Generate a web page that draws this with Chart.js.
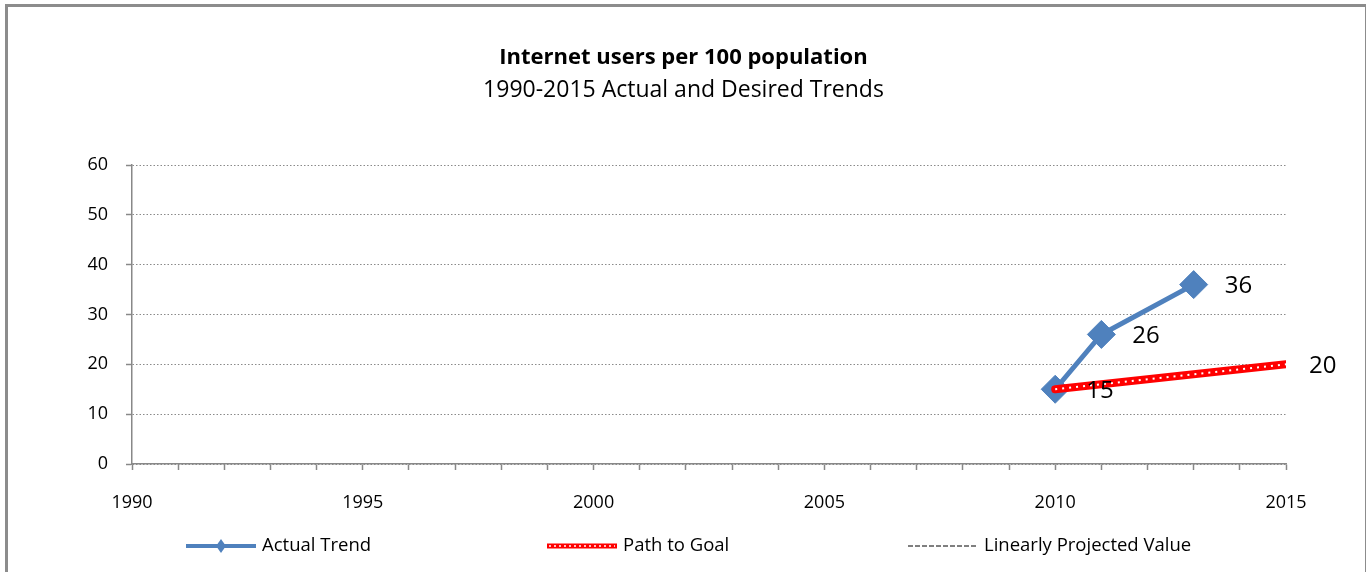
<!DOCTYPE html>
<html>
<head>
<meta charset="utf-8">
<script src="https://cdn.jsdelivr.net/npm/chart.js@4/dist/chart.umd.min.js"></script>
<style>
  html, body { margin: 0; padding: 0; background: #fff; }
  #wrap { position: absolute; left: 0; top: 0; width: 1367px; height: 572px; }
  #frame {
    position: absolute; left: 5px; top: 4px; width: 1361px; height: 568px;
    border-left: 3px solid #8c8c8c; border-top: 3px solid #8c8c8c; border-right: 1px solid #8c8c8c;
    box-sizing: border-box; pointer-events: none;
  }
</style>
</head>
<body>
<div id="wrap">
  <canvas id="chart" width="1367" height="572"></canvas>
  <div id="frame"></div>
</div>
<script>
// data
var actualYears = [2010, 2011, 2013];
var actualValues = [15, 26, 36];
var goalYears = [2010, 2015];
var goalValues = [15, 20];
var projectedYears = [];
var projectedValues = [];
var yearMin = 1990, yearMax = 2015;
var valueMin = 0, valueMax = 60;

function pairs(xs, ys) {
  return xs.map(function (x, i) { return { x: x, y: ys[i] }; });
}

var FONT = "'Open Sans', sans-serif";
var BLUE = '#4F81BD';

// labels next to points (Excel style data labels)
var pointLabels = {
  id: 'pointLabels',
  afterDatasetsDraw: function (chart) {
    var ctx = chart.ctx;
    ctx.save();
    ctx.font = '24px ' + FONT;
    ctx.fillStyle = '#000';
    ctx.textAlign = 'left';
    ctx.textBaseline = 'middle';
    chart.data.datasets.forEach(function (ds, i) {
      if (!ds.showLabels) return;
      var meta = chart.getDatasetMeta(i);
      meta.data.forEach(function (pt, j) {
        if (ds.showLabels === 'last' && j !== meta.data.length - 1) return;
        ctx.fillText(ds.data[j].y, pt.x + ds.labelOffset, pt.y + 2);
      });
    });
    ctx.restore();
  }
};

// bottom legend spread across the width
var spreadLegend = {
  id: 'spreadLegend',
  afterDraw: function (chart) {
    var ctx = chart.ctx;
    var y = 546, x0 = 186, step = 361, lineLen = 70;
    var items = chart.data.datasets.filter(function (ds) { return !ds.noLegend; });
    ctx.save();
    ctx.font = '18.5px ' + FONT;
    ctx.textBaseline = 'middle';
    ctx.textAlign = 'left';
    items.forEach(function (ds, i) {
      var x = x0 + i * step;
      ctx.beginPath();
      ctx.setLineDash(ds.legendDash || []);
      ctx.lineWidth = ds.legendWidth || ds.borderWidth;
      ctx.strokeStyle = ds.borderColor;
      ctx.moveTo(x, y); ctx.lineTo(x + lineLen, y);
      ctx.stroke();
      if (ds.legendOverlay) {
        ctx.beginPath();
        ctx.setLineDash([2, 3]);
        ctx.lineWidth = 1.5;
        ctx.strokeStyle = '#fff';
        ctx.moveTo(x + 2, y); ctx.lineTo(x + lineLen - 2, y);
        ctx.stroke();
      }
      ctx.setLineDash([]);
      if (ds.pointStyle === 'rectRot') {
        var cx = x + lineLen / 2, r = 7;
        ctx.beginPath();
        ctx.fillStyle = ds.borderColor;
        ctx.moveTo(cx, y - r); ctx.lineTo(cx + r * 0.7, y); ctx.lineTo(cx, y + r); ctx.lineTo(cx - r * 0.7, y);
        ctx.closePath(); ctx.fill();
      }
      ctx.fillStyle = '#000';
      ctx.fillText(ds.label, x + lineLen + 6, y);
    });
    ctx.restore();
  }
};

new Chart(document.getElementById('chart'), {
  type: 'line',
  data: {
    datasets: [
      {
        label: 'Actual Trend',
        data: pairs(actualYears, actualValues),
        borderColor: BLUE,
        backgroundColor: BLUE,
        borderWidth: 5,
        pointStyle: 'rectRot',
        pointRadius: 14,
        pointHoverRadius: 14,
        pointBackgroundColor: BLUE,
        pointBorderColor: BLUE,
        pointBorderWidth: 1,
        legendWidth: 4,
        showLabels: 'all',
        labelOffset: 31,
        order: 3
      },
      {
        label: 'Path to Goal',
        data: pairs(goalYears, goalValues),
        borderColor: '#FF0000',
        borderWidth: 8,
        borderCapStyle: 'round',
        pointRadius: 0,
        legendWidth: 5,
        legendOverlay: true,
        showLabels: 'last',
        labelOffset: 23,
        order: 2
      },
      {
        // white dots on top of the red goal line
        label: 'Path to Goal dots',
        data: pairs(goalYears, goalValues),
        borderColor: '#FFFFFF',
        borderWidth: 2,
        borderDash: [2, 5],
        pointRadius: 0,
        noLegend: true,
        order: 1
      },
      {
        label: 'Linearly Projected Value',
        data: pairs(projectedYears, projectedValues),
        borderColor: '#000000',
        borderWidth: 1,
        borderDash: [4, 3],
        legendDash: [5, 2],
        legendWidth: 1,
        pointRadius: 0,
        order: 4
      }
    ]
  },
  plugins: [pointLabels, spreadLegend],
  options: {
    responsive: false,
    animation: false,
    events: [],
    layout: { padding: { left: 0, right: 0, top: 0, bottom: 58 } },
    plugins: {
      legend: { display: false },
      tooltip: { enabled: false },
      title: {
        display: true,
        text: 'Internet users per 100 population',
        color: '#000',
        font: { family: FONT, size: 22, weight: 'bold' },
        padding: { top: 45, bottom: 2 }
      },
      subtitle: {
        display: true,
        text: '1990-2015 Actual and Desired Trends',
        color: '#000',
        font: { family: FONT, size: 23 },
        padding: { top: 3, bottom: 61 }
      }
    },
    scales: {
      x: {
        type: 'linear',
        min: yearMin,
        max: yearMax,
        afterFit: function (s) { s.height = 50; },
        ticks: {
          stepSize: 1,
          autoSkip: false,
          maxRotation: 0,
          padding: 22,
          color: '#000',
          font: { family: FONT, size: 18 },
          callback: function (v) { return v % 5 === 0 ? String(v) : ''; }
        },
        grid: { drawOnChartArea: false, drawTicks: true, tickLength: 6, tickColor: '#888', tickWidth: 1.5 },
        border: { color: '#888', width: 1.5 }
      },
      y: {
        min: valueMin,
        max: valueMax,
        afterFit: function (s) { s.width = 132; },
        ticks: {
          stepSize: 10,
          padding: 18,
          color: '#000',
          font: { family: FONT, size: 18 }
        },
        grid: {
          color: '#8a8a8a',
          lineWidth: 1,
          tickBorderDash: [],
          tickColor: '#888',
          tickLength: 6,
          tickWidth: 1.5
        },
        border: { color: '#888', width: 1.5, dash: [1.5, 2] }
      },
      // empty right-hand margin so the title stays centred on the whole page
      yRight: {
        position: 'right',
        min: valueMin,
        max: valueMax,
        afterFit: function (s) { s.width = 81; },
        ticks: { display: false },
        grid: { display: false, drawTicks: false },
        border: { display: false }
      }
    }
  }
});
</script>
</body>
</html>
